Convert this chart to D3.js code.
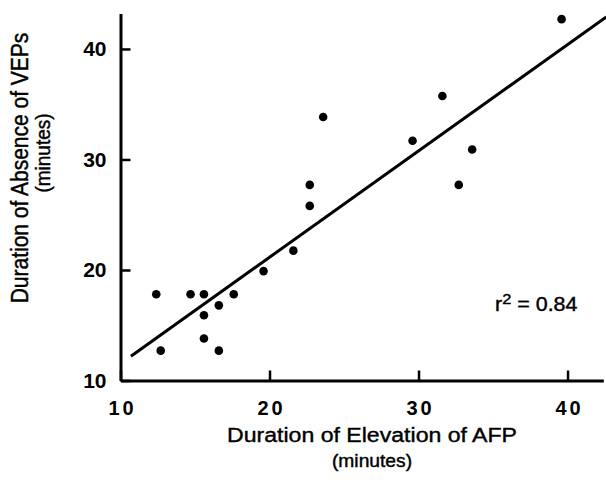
<!DOCTYPE html>
<html><head><meta charset="utf-8">
<script src="https://cdn.jsdelivr.net/npm/d3@7"></script>
<style>body{margin:0;background:#fff}svg{display:block}</style>
</head><body><svg id="c" width="606" height="480"></svg>
<script>
const xValues = [12.4,12.7,14.7,15.6,15.6,15.6,16.6,16.6,17.6,19.6,21.6,22.7,22.7,23.6,29.6,31.6,32.7,33.6,39.6];
const yValues = [17.8,12.7,17.8,17.8,15.9,13.8,16.8,12.7,17.8,19.9,21.75,27.7,25.8,33.85,31.7,35.75,27.7,30.9,42.7];
const fitX = [10.7, 42.6];
const fitY = [12.2, 42.9];
const xTicks = [10,20,30,40];
const yTicks = [10,20,30,40];
const xTitle = "Duration of Elevation of AFP";
const yTitle = "Duration of Absence of VEPs";
const unitLabel = "(minutes)";
const rLabel = "r", rSup = "2", rValue = " = 0.84";

const svg = d3.select("#c");
const x = d3.scaleLinear().domain([10,42.4]).range([120.5,603.3]);
const y = d3.scaleLinear().domain([10,43.2]).range([380.5,13.6]);
const font = "'Liberation Sans', Arial, Helvetica, sans-serif";

const gx = svg.append("g").attr("transform",`translate(0,${y(10)})`)
  .call(d3.axisBottom(x).tickValues(xTicks).tickFormat(d3.format("d")).tickSizeInner(-10).tickSizeOuter(0).tickPadding(20));
gx.select(".domain").attr("stroke-width",3);
gx.selectAll(".tick line").attr("stroke-width",2.5);
gx.selectAll(".tick text").attr("font-family",font).attr("font-size",20).attr("font-weight","bold")
  .attr("letter-spacing","3px").attr("fill","#000").attr("dx","1.5px");

const gy = svg.append("g").attr("transform",`translate(${x(10)},0)`)
  .call(d3.axisLeft(y).tickValues(yTicks).tickFormat(d3.format("d")).tickSizeInner(-10).tickSizeOuter(0).tickPadding(14));
gy.select(".domain").attr("stroke-width",3);
gy.selectAll(".tick line").attr("stroke-width",2.5);
gy.selectAll(".tick text").attr("font-family",font).attr("font-size",21).attr("font-weight","bold").attr("fill","#000");

svg.append("line").attr("x1",x(fitX[0])).attr("y1",y(fitY[0])).attr("x2",x(fitX[1])).attr("y2",y(fitY[1]))
  .attr("stroke","#000").attr("stroke-width",3);

svg.append("g").selectAll("circle").data(xValues.map((v,i)=>[v,yValues[i]])).join("circle")
  .attr("cx",d=>x(d[0])).attr("cy",d=>y(d[1])).attr("r",4.3).attr("fill","#000");

function title(t){ return t.attr("font-family",font).attr("fill","#000").attr("stroke","#000").attr("stroke-width",0.4); }

title(svg.append("text").attr("transform","translate(372,442) scale(1.1,1)").attr("text-anchor","middle")
  .attr("font-size",21).text(xTitle));
title(svg.append("text").attr("transform","translate(372,467) scale(1.1,1)").attr("text-anchor","middle")
  .attr("font-size",17.5).text(unitLabel));

title(svg.append("text").attr("transform","translate(28,168) scale(1.1,1) rotate(-90)").attr("text-anchor","middle")
  .attr("font-size",21).text(yTitle));
title(svg.append("text").attr("transform","translate(50,153) scale(1.1,1) rotate(-90)").attr("text-anchor","middle")
  .attr("font-size",19).text(unitLabel));

const rt = title(svg.append("text").attr("transform","translate(495,311) scale(1.1,1)").attr("font-size",19.5));
rt.append("tspan").text(rLabel);
rt.append("tspan").attr("dy",-7).attr("font-size",15).text(rSup);
rt.append("tspan").attr("dy",7).text(rValue);
</script></body></html>
